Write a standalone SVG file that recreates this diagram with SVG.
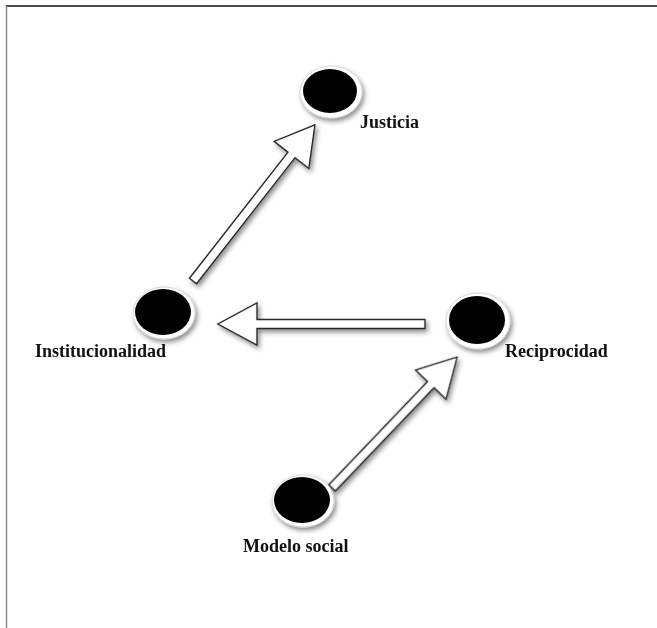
<svg xmlns="http://www.w3.org/2000/svg" width="657" height="628" viewBox="0 0 657 628">
<style>
.frame-top{stroke:#111;stroke-width:1.5;fill:none}
.frame-left{stroke:#8a8a8a;stroke-width:1.5;fill:none}
.rim{fill:#fff;stroke:#d8d8d8;stroke-width:1}
.disc{fill:#000}
.arrow{fill:#fff;stroke:#2a2a2a;stroke-width:1.4;stroke-linejoin:miter}
.label{font-family:"Liberation Serif","Times New Roman",serif;font-weight:bold;font-size:18px;fill:#111}
</style>
<defs>
<filter id="shadow" x="-30%" y="-30%" width="170%" height="170%">
<feDropShadow dx="2" dy="3" stdDeviation="2.5" flood-color="#000" flood-opacity="0.45"/>
</filter>
</defs>
<rect width="657" height="628" fill="#fff"/>
<line class="frame-top" x1="6" y1="6" x2="657" y2="6"/>
<line class="frame-left" x1="6.5" y1="6" x2="6.5" y2="628"/>
<g id="connectors" filter="url(#shadow)">
<path class="arrow" transform="translate(193,281) rotate(-52)" d="M0,-4.5 L160,-4.5 L160,-22 L198,0 L160,22 L160,4.5 L0,4.5 Z"/>
<path class="arrow" transform="translate(425,324) rotate(180)" d="M0,-4.5 L168,-4.5 L168,-21 L207,0 L168,21 L168,4.5 L0,4.5 Z"/>
<path class="arrow" transform="translate(332,488) rotate(-46.3)" d="M0,-4.5 L143,-4.5 L143,-21 L181,0 L143,21 L143,4.5 L0,4.5 Z"/>
</g>
<g id="justicia">
<ellipse class="rim" cx="331" cy="92" rx="31" ry="26" filter="url(#shadow)"/>
<ellipse class="disc" cx="330" cy="91" rx="27" ry="22"/>
<text class="label" x="360" y="128">Justicia</text>
</g>
<g id="institucionalidad">
<ellipse class="rim" cx="164" cy="313" rx="31" ry="26" filter="url(#shadow)"/>
<ellipse class="disc" cx="163" cy="312" rx="28" ry="23"/>
<text class="label" x="35" y="357">Institucionalidad</text>
</g>
<g id="reciprocidad">
<ellipse class="rim" cx="478" cy="321" rx="32" ry="28" filter="url(#shadow)"/>
<ellipse class="disc" cx="477" cy="320" rx="28" ry="24"/>
<text class="label" x="505" y="357">Reciprocidad</text>
</g>
<g id="modelo-social">
<ellipse class="rim" cx="303" cy="501" rx="31" ry="26" filter="url(#shadow)"/>
<ellipse class="disc" cx="302" cy="500" rx="28" ry="23"/>
<text class="label" x="243" y="552">Modelo social</text>
</g>
</svg>
